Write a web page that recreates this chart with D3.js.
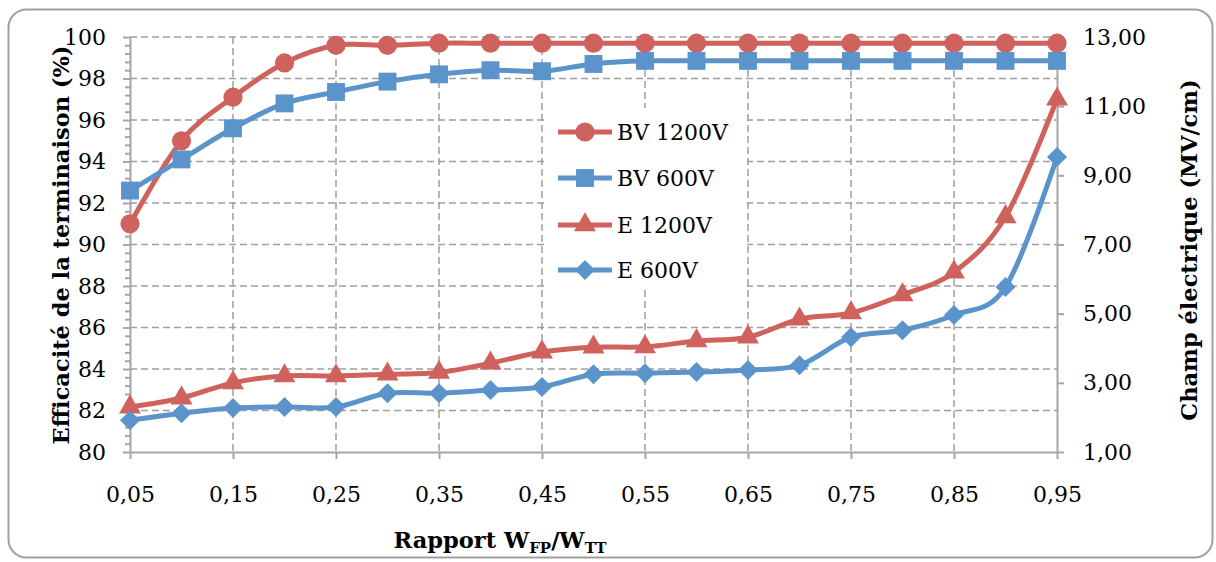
<!DOCTYPE html>
<meta charset="utf-8">
<style>
body { margin: 0; background: #fff; }

.grid line {
    stroke: #9f9f9f;
    stroke-width: 1.5px;
    stroke-dasharray: 7, 4;
}

.axis path, .axis line {
    stroke: #a6a6a6;
    stroke-width: 2px;
}

.axis text {
    font: 22px "DejaVu Serif", serif;
    fill: #000;
}

.title {
    font: bold 22.5px "DejaVu Serif", serif;
    fill: #000;
}

.legend text {
    font: 22px "DejaVu Serif", serif;
    fill: #000;
}

.line {
    fill: none;
    stroke-width: 5px;
}
</style>
<body>

<script src="https://d3js.org/d3.v7.min.js"></script>
<script>

// data
var xValues = [0.05, 0.10, 0.15, 0.20, 0.25, 0.30, 0.35, 0.40, 0.45, 0.50,
               0.55, 0.60, 0.65, 0.70, 0.75, 0.80, 0.85, 0.90, 0.95];
var xTicks = [0.05, 0.15, 0.25, 0.35, 0.45, 0.55, 0.65, 0.75, 0.85, 0.95];
var xTickLabels = ["0,05", "0,15", "0,25", "0,35", "0,45", "0,55", "0,65", "0,75", "0,85", "0,95"];
var leftTicks = [80, 82, 84, 86, 88, 90, 92, 94, 96, 98, 100];
var rightTicks = [1, 3, 5, 7, 9, 11, 13];
var rightTickLabels = ["1,00", "3,00", "5,00", "7,00", "9,00", "11,00", "13,00"];

// efficiency (%) on left axis
var bv1200 = [91.0, 95.0, 97.1, 98.75, 99.6, 99.6, 99.7, 99.7, 99.7, 99.7,
              99.7, 99.7, 99.7, 99.7, 99.7, 99.7, 99.7, 99.7, 99.7];
var bv600 = [92.6, 94.1, 95.6, 96.8, 97.35, 97.85, 98.2, 98.4, 98.35, 98.7,
             98.85, 98.85, 98.85, 98.85, 98.85, 98.85, 98.85, 98.85, 98.85];
// electric field (MV/cm) on right axis
var e1200 = [2.3, 2.56, 3.0, 3.2, 3.2, 3.25, 3.3, 3.57, 3.89, 4.03,
             4.04, 4.21, 4.32, 4.84, 5.02, 5.54, 6.2, 7.8, 11.2];
var e600 = [1.92, 2.12, 2.27, 2.3, 2.3, 2.7, 2.7, 2.79, 2.88, 3.25,
            3.28, 3.31, 3.37, 3.51, 4.32, 4.52, 4.96, 5.77, 9.53];

var red = "#cf625c",
    blue = "#5b94cb";

var W = 1216, H = 562;
var plot = {left: 130, right: 1057, top: 37, bottom: 452};

var x = d3.scaleLinear().domain([0.05, 0.95]).range([plot.left, plot.right]);
var yL = d3.scaleLinear().domain([80, 100]).range([plot.bottom, plot.top]);
var yR = d3.scaleLinear().domain([1, 13]).range([plot.bottom, plot.top]);

var svg = d3.select("body").append("svg")
    .attr("width", W)
    .attr("height", H);

// chart frame
svg.append("rect")
    .attr("x", 8.5).attr("y", 9.5)
    .attr("width", 1204).attr("height", 548)
    .attr("rx", 18)
    .attr("fill", "#fff")
    .attr("stroke", "#a0a0a0")
    .attr("stroke-width", 2);

// horizontal grid lines (left axis majors)
svg.append("g")
    .attr("class", "grid")
    .selectAll("line")
    .data(leftTicks.slice(1))
    .enter().append("line")
    .attr("x1", plot.left).attr("x2", plot.right)
    .attr("y1", function(d) { return yL(d); })
    .attr("y2", function(d) { return yL(d); });

// vertical grid lines
svg.append("g")
    .attr("class", "grid")
    .selectAll("line")
    .data(xTicks.slice(1, -1))
    .enter().append("line")
    .attr("x1", function(d) { return x(d); })
    .attr("x2", function(d) { return x(d); })
    .attr("y1", plot.top).attr("y2", plot.bottom);

// minor ticks on the left axis
var minor = d3.range(80, 100.01, 0.4).filter(function(d) { return Math.abs(d / 2 - Math.round(d / 2)) > 0.01; });
svg.append("g")
    .attr("class", "axis")
    .attr("transform", "translate(" + plot.left + ",0)")
    .call(d3.axisLeft(yL).tickValues(minor).tickSize(5).tickFormat(""))
    .select(".domain").remove();

// left axis
svg.append("g")
    .attr("class", "axis")
    .attr("transform", "translate(" + plot.left + ",0)")
    .call(d3.axisLeft(yL).tickValues(leftTicks).tickSize(7).tickSizeOuter(0).tickPadding(17));

// right axis
svg.append("g")
    .attr("class", "axis")
    .attr("transform", "translate(" + plot.right + ",0)")
    .call(d3.axisRight(yR).tickValues(rightTicks).tickSize(7).tickSizeOuter(0).tickPadding(19)
        .tickFormat(function(d, i) { return rightTickLabels[i]; }));

// bottom axis
svg.append("g")
    .attr("class", "axis")
    .attr("transform", "translate(0," + plot.bottom + ")")
    .call(d3.axisBottom(x).tickValues(xTicks).tickSize(7).tickSizeOuter(0).tickPadding(27)
        .tickFormat(function(d, i) { return xTickLabels[i]; }));

// axis titles
svg.append("text")
    .attr("class", "title")
    .attr("transform", "translate(69,245) rotate(-90)")
    .attr("text-anchor", "middle")
    .text("Efficacité de la terminaison  (%)");

svg.append("text")
    .attr("class", "title")
    .attr("transform", "translate(1197,250) rotate(-90)")
    .attr("text-anchor", "middle")
    .text("Champ électrique (MV/cm)");

var xt = svg.append("text")
    .attr("class", "title")
    .attr("x", 500).attr("y", 548)
    .attr("text-anchor", "middle");
xt.append("tspan").text("Rapport W");
xt.append("tspan").attr("dy", 5).style("font-size", "15px").text("FP");
xt.append("tspan").attr("dy", -5).text("/W");
xt.append("tspan").attr("dy", 5).style("font-size", "15px").text("TT");

// series definitions
var series = [
    {name: "BV 1200V", values: bv1200, y: yL, color: red, symbol: d3.symbolCircle, size: 290, rotate: 0},
    {name: "BV 600V", values: bv600, y: yL, color: blue, symbol: d3.symbolSquare, size: 320, rotate: 0},
    {name: "E 1200V", values: e1200, y: yR, color: red, symbol: d3.symbolTriangle, size: 210, rotate: 0},
    {name: "E 600V", values: e600, y: yR, color: blue, symbol: d3.symbolSquare, size: 200, rotate: 45}
];

// legend (white box hides the grid behind it)
var legend = svg.append("g").attr("class", "legend");
legend.append("rect")
    .attr("x", 547).attr("y", 108)
    .attr("width", 200).attr("height", 182)
    .attr("fill", "#fff");

var legendY = [132, 178, 225, 270];
series.forEach(function(s, i) {
    var g = legend.append("g").attr("transform", "translate(0," + legendY[i] + ")");
    g.append("line")
        .attr("x1", 558).attr("x2", 612)
        .attr("stroke", s.color).attr("stroke-width", 5);
    g.append("path")
        .attr("d", d3.symbol().type(s.symbol).size(s.size))
        .attr("transform", "translate(585,0) rotate(" + s.rotate + ")")
        .attr("fill", s.color);
    g.append("text")
        .attr("x", 617).attr("y", 8)
        .text(s.name);
});

// lines and markers
series.forEach(function(s) {
    var line = d3.line()
        .curve(d3.curveCatmullRom.alpha(0))
        .x(function(d, i) { return x(xValues[i]); })
        .y(function(d) { return s.y(d); });

    svg.append("path")
        .datum(s.values)
        .attr("class", "line")
        .attr("stroke", s.color)
        .attr("d", line);

    svg.append("g")
        .selectAll("path")
        .data(s.values)
        .enter().append("path")
        .attr("d", d3.symbol().type(s.symbol).size(s.size))
        .attr("transform", function(d, i) {
            return "translate(" + x(xValues[i]) + "," + s.y(d) + ") rotate(" + s.rotate + ")";
        })
        .attr("fill", s.color);
});

</script>
</body>
